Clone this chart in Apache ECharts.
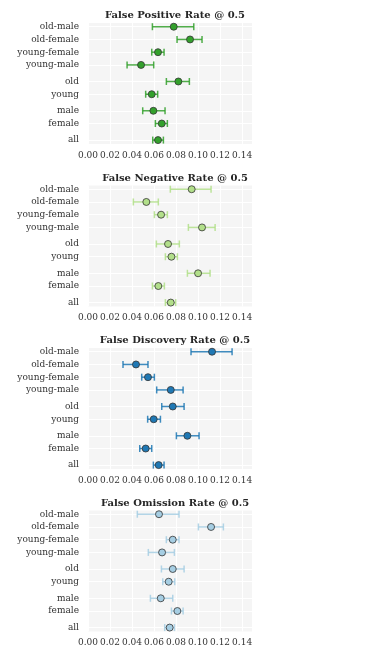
<!DOCTYPE html>
<html>
<head>
<meta charset="utf-8">
<script src="https://cdn.jsdelivr.net/npm/echarts@6/dist/echarts.min.js"></script>
<style>html,body{margin:0;padding:0;background:#fff}#c{width:390px;height:660px}</style>
</head>
<body>
<div id="c"></div>
<script>
const categories = ['all','female','male','young','old','young-male','young-female','old-female','old-male'];
const groupOf = [0,1,1,2,2,3,3,3,3];
const xTicks = [0,0.02,0.04,0.06,0.08,0.10,0.12,0.14];

const titles = ['False Positive Rate @ 0.5','False Negative Rate @ 0.5','False Discovery Rate @ 0.5','False Omission Rate @ 0.5'];
const colors = ['#33a02c','#b2df8a','#1f78b4','#a6cee3'];

// order: all, female, male, young, old, young-male, young-female, old-female, old-male
const fprMean = [0.0636,0.0670,0.0594,0.0579,0.0821,0.0482,0.0636,0.0927,0.0779];
const fprLow  = [0.0588,0.0612,0.0497,0.0524,0.0712,0.0355,0.0579,0.0809,0.0585];
const fprHigh = [0.0685,0.0721,0.0700,0.0633,0.0921,0.0597,0.0691,0.1036,0.0961];

const fnrMean = [0.0752,0.0639,0.1000,0.0758,0.0727,0.1036,0.0664,0.0530,0.0942];
const fnrLow  = [0.0703,0.0585,0.0903,0.0703,0.0621,0.0912,0.0603,0.0412,0.0748];
const fnrHigh = [0.0797,0.0694,0.1109,0.0812,0.0830,0.1155,0.0721,0.0639,0.1118];

const fdrMean = [0.0642,0.0524,0.0903,0.0597,0.0770,0.0752,0.0545,0.0436,0.1127];
const fdrLow  = [0.0594,0.0470,0.0803,0.0542,0.0670,0.0624,0.0488,0.0318,0.0936];
const fdrHigh = [0.0691,0.0579,0.1009,0.0658,0.0873,0.0864,0.0603,0.0545,0.1309];

const forMean = [0.0742,0.0812,0.0661,0.0733,0.0770,0.0673,0.0770,0.1118,0.0645];
const forLow  = [0.0697,0.0758,0.0567,0.0679,0.0667,0.0548,0.0712,0.1003,0.0448];
const forHigh = [0.0785,0.0864,0.0770,0.0788,0.0873,0.0785,0.0827,0.1230,0.0827];

const panels = [
  [fprMean,fprLow,fprHigh],
  [fnrMean,fnrLow,fnrHigh],
  [fdrMean,fdrLow,fdrHigh],
  [forMean,forLow,forHigh]
];

const rowPos = categories.map((c,i)=> i + groupOf[i]*0.3);
const FONT = 'DejaVu Serif';

const option = {
  animation:false,
  backgroundColor:'#fff',
  title:[], grid:[], xAxis:[], yAxis:[], series:[]
};

panels.forEach((p,k)=>{
  const top = 22.9 + 162.5*k;
  option.title.push({
    text:titles[k], left:170, top:top-17, textAlign:'center',
    textStyle:{fontFamily:FONT,fontWeight:'bold',fontSize:10,color:'#262626'}
  });
  option.grid.push({left:88,width:164,top:top,height:121,backgroundColor:'#f5f5f5',show:true,borderWidth:0});
  option.xAxis.push({
    type:'value',gridIndex:k,min:0,max:0.149,
    axisLine:{show:false},
    axisTick:{show:false,customValues:xTicks},
    axisLabel:{customValues:xTicks,formatter:v=>v.toFixed(2),fontFamily:FONT,fontSize:9,color:'#333',margin:7},
    splitLine:{show:true,lineStyle:{color:'#fff',width:1}}
  });
  option.yAxis.push({
    type:'value',gridIndex:k,min:-0.3,max:9.2,
    axisLine:{show:false},
    axisTick:{show:false,customValues:rowPos},
    axisLabel:{customValues:rowPos,fontFamily:FONT,fontSize:9,color:'#333',margin:9,
      formatter:v=>{let bi=0,bd=1e9;rowPos.forEach((r,i)=>{const d=Math.abs(r-v);if(d<bd){bd=d;bi=i;}});return categories[bi];}},
    splitLine:{show:true,lineStyle:{color:'#fff',width:1}}
  });
  const [m,lo,hi] = p;
  option.series.push({
    type:'custom',xAxisIndex:k,yAxisIndex:k,
    data:categories.map((c,i)=>[lo[i],hi[i],rowPos[i]]),
    encode:{x:[0,1],y:2},
    renderItem:(params,api)=>{
      const a = api.coord([api.value(0),api.value(2)]);
      const b = api.coord([api.value(1),api.value(2)]);
      const h = 3.5;
      const st = {stroke:colors[k],lineWidth:1.5,opacity:0.85};
      return {type:'group',children:[
        {type:'line',shape:{x1:a[0],y1:a[1],x2:b[0],y2:b[1]},style:st},
        {type:'line',shape:{x1:a[0],y1:a[1]-h,x2:a[0],y2:a[1]+h},style:st},
        {type:'line',shape:{x1:b[0],y1:b[1]-h,x2:b[0],y2:b[1]+h},style:st}
      ]};
    },
    z:2
  });
  option.series.push({
    type:'scatter',xAxisIndex:k,yAxisIndex:k,
    data:categories.map((c,i)=>[m[i],rowPos[i]]),
    symbolSize:7,
    itemStyle:{color:colors[k],borderColor:'#333',borderWidth:0.8,opacity:1},
    z:3
  });
});

const chart = echarts.init(document.getElementById('c'),null,{renderer:'canvas'});
chart.setOption(option);
</script>
</body>
</html>
